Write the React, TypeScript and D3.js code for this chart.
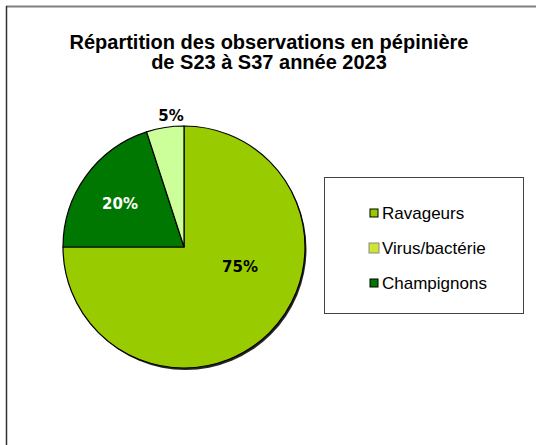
import React from "react";
import * as d3 from "d3";

const titleLines = ["Répartition des observations en pépinière", "de S23 à S37 année 2023"];
const legendCategories = ["Ravageurs", "Virus/bactérie", "Champignons"];
const sliceOrder = ["Ravageurs", "Champignons", "Virus/bactérie"];
const sliceValues = [75, 20, 5];
const sliceLabels = ["75%", "20%", "5%"];

const colors: Record<string, string> = {
  "Ravageurs": "#99cc00",
  "Virus/bactérie": "#ccff99",
  "Champignons": "#007700",
};
const legendColors: Record<string, string> = {
  "Ravageurs": "#99cc00",
  "Virus/bactérie": "#cce633",
  "Champignons": "#007700",
};
const labelColors: Record<string, string> = {
  "Ravageurs": "#000",
  "Virus/bactérie": "#000",
  "Champignons": "#fff",
};

export default function App() {
  const W = 536, H = 445;
  const cx = 184, cy = 247, r = 121;
  const pie = d3.pie<number>().sort(null).value((d) => d);
  const arcs = pie(sliceValues);
  const arcGen = d3.arc<d3.PieArcDatum<number>>().innerRadius(0).outerRadius(r);
  const labelPos: [number, number][] = [
    [56, 20],
    [-64, -43],
    [-13, -131],
  ];
  const legendY = [213, 248, 283];

  return (
    <svg width={W} height={H} style={{ position: "absolute", left: 0, top: 0 }}>
      <rect x={0} y={0} width={W} height={H} fill="#fff" />
      <line x1={6} y1={6.5} x2={W} y2={6.5} stroke="#808080" strokeWidth={2} />
      <line x1={6.5} y1={6} x2={6.5} y2={H} stroke="#333" strokeWidth={1.5} />
      {titleLines.map((t, i) => (
        <text key={i} x={269} y={49 + i * 20} textAnchor="middle"
          fontFamily="Liberation Sans, Arial, sans-serif" fontWeight="bold" fontSize={20} fill="#000">{t}</text>
      ))}
      <g transform={`translate(${cx},${cy})`}>
        <circle cx={1.5} cy={2} r={r} fill="#000" opacity={0.85} />
        {arcs.map((a, i) => (
          <path key={i} d={arcGen(a) || ""} fill={colors[sliceOrder[i]]} stroke="#000" strokeWidth={1.2} />
        ))}
        {arcs.map((a, i) => (
          <text key={"l" + i} x={labelPos[i][0]} y={labelPos[i][1]} textAnchor="middle" dominantBaseline="central"
            fontFamily="DejaVu Sans, Verdana, sans-serif" fontWeight="bold" fontSize={15}
            fill={labelColors[sliceOrder[i]]}>{sliceLabels[i]}</text>
        ))}
      </g>
      <rect x={324.5} y={177.5} width={199} height={136} fill="#fff" stroke="#444" strokeWidth={1} />
      {legendCategories.map((c, i) => {
        const big = c === "Virus/bactérie";
        const s = big ? 10 : 8;
        return (
          <g key={c}>
            <rect x={big ? 369 : 370} y={legendY[i] - s / 2} width={s} height={s} fill={legendColors[c]}
              stroke={big ? "#888" : "#000"} strokeWidth={1} />
            <text x={382} y={legendY[i]} dominantBaseline="central" fontFamily="Liberation Sans, Arial, sans-serif"
              fontSize={17} fill="#000">{c}</text>
          </g>
        );
      })}
    </svg>
  );
}
